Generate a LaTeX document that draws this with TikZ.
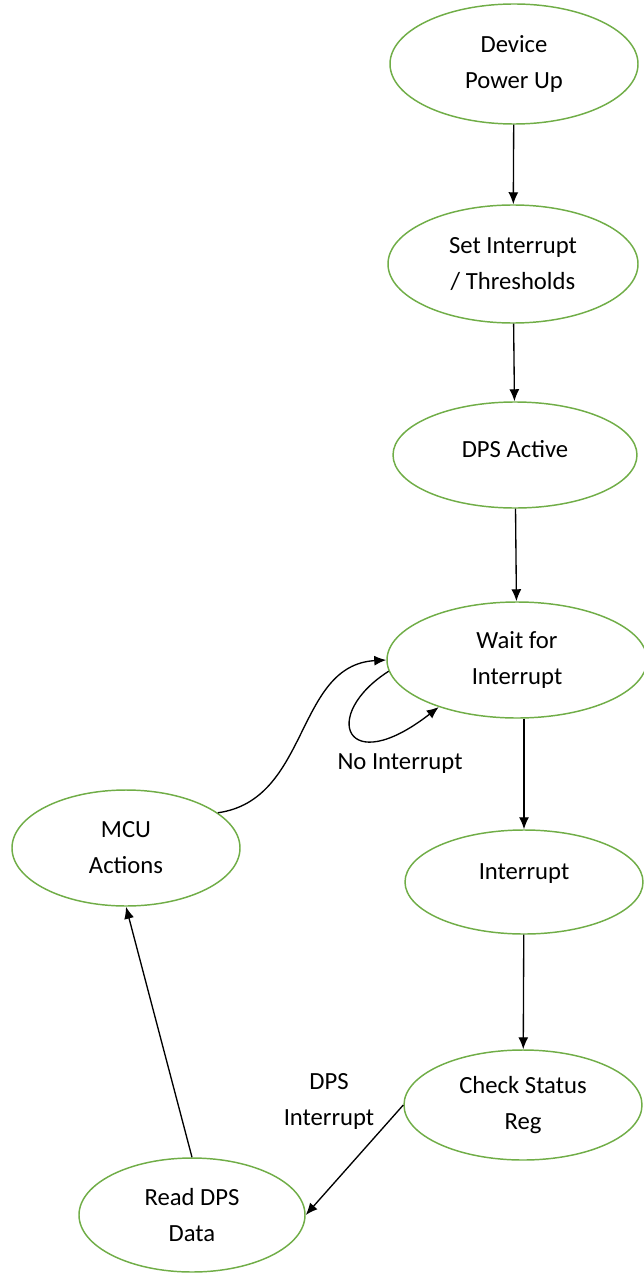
\documentclass[tikz,border=0pt]{standalone}
\usepackage{fontspec}
\setmainfont{Carlito}
\usetikzlibrary{shapes.geometric,arrows.meta}
\definecolor{stategreen}{RGB}{112,173,71}

\begin{document}
\begin{tikzpicture}
[x=0.75pt, y=-0.75pt,
every node/.style = {align=center, inner sep=0pt,
	font=\fontsize{18.5}{27}\selectfont,
},
state/.style = {shape=ellipse, draw=stategreen, line width=1.1pt},
flow/.style = {draw=black, line width=1pt, -{Latex[length=9pt,width=7.5pt]}},
]
\useasboundingbox (0,0) rectangle (643,1273);

% states
\node[state, minimum width=186pt, minimum height=90pt] (power) at (514,64) {Device\\Power Up};
\node[state, minimum width=187.5pt, minimum height=88.5pt] (thresh) at (513,264) {Set Interrupt\\/ Thresholds};
\node[state, minimum width=183pt, minimum height=79.5pt, text depth=9pt] (active) at (515,455) {DPS Active};
\node[state, minimum width=195pt, minimum height=87pt] (wait) at (517,660) {Wait for\\Interrupt};
\node[state, minimum width=178.5pt, minimum height=78pt, text depth=16pt] (intr) at (524,882) {Interrupt};
\node[state, minimum width=178.5pt, minimum height=82.5pt] (status) at (523,1105) {Check Status\\Reg};
\node[state, minimum width=169.5pt, minimum height=85.5pt] (readdps) at (192,1215) {Read DPS\\Data};
\node[state, minimum width=171pt, minimum height=87pt] (mcu) at (126,848) {MCU\\Actions};

% labels
\node (nointr) at (400,764) {No Interrupt};
\node (dpsintr) at (329,1101) {DPS\\Interrupt};

% transitions
\draw[flow] (power) -- (thresh);
\draw[flow] (thresh) -- (active);
\draw[flow] (active) -- (wait);
\draw[flow] (wait.south -| intr.north) -- (intr.north);
\draw[flow] (intr) -- (status);
\draw[flow] (status.west) -- (readdps.east);
\draw[flow] (readdps.north) -- (mcu.south);
\draw[flow] (mcu.21) .. controls (310,800) and (295,665) .. (wait.west);
\draw[flow] (wait.185) .. controls (320,715) and (345,780) .. (wait.211);

\end{tikzpicture}
\end{document}
